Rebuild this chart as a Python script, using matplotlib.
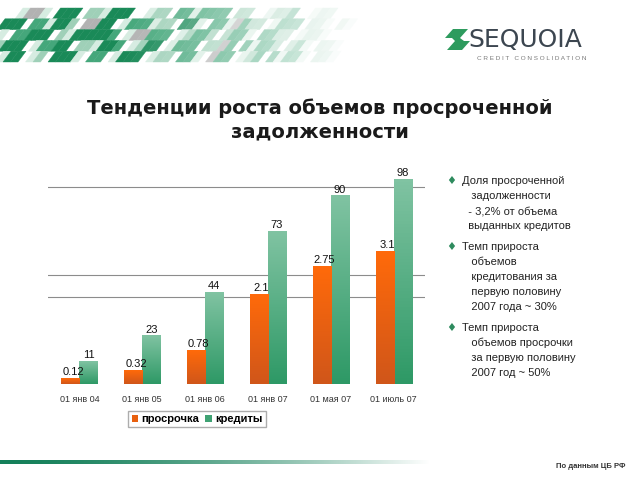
import numpy as np
import matplotlib.pyplot as plt
from matplotlib.patches import Polygon, Rectangle, Patch
from matplotlib.colors import to_rgb

plt.rcParams['font.family'] = ['Liberation Sans', 'DejaVu Sans']

categories = ["01 янв 04", "01 янв 05", "01 янв 06", "01 янв 07", "01 мая 07", "01 июль 07"]
overdue = [0.12, 0.32, 0.78, 2.1, 2.75, 3.1]
credits = [11, 23, 44, 73, 90, 98]
overdue_labels = ["0.12", "0.32", "0.78", "2.1", "2.75", "3.1"]
grid_levels = [41.6, 52.2, 94.3]

title = "Тенденции роста объемов просроченной\nзадолженности"
notes = [
    ["Доля просроченной", "   задолженности", "  - 3,2% от объема", "  выданных кредитов"],
    ["Темп прироста", "   объемов", "   кредитования за", "   первую половину", "   2007 года ~ 30%"],
    ["Темп прироста", "   объемов просрочки", "   за первую половину", "   2007 год ~ 50%"],
]
source = "По данным ЦБ РФ"

# mosaic pattern for the header band (D dark, M mid, L light, p pale, G grey, . blank)
mosaic_rows = [
    "..pGGp.DDD.LLpDDD..pLL.MMpMMMM.LL..pLLM..pLL.",
    "DDD.MMpDDL.GGDD.pMMMpLL.DDp.MMpGMLL.pMMM.LLp.Lp",
    "p.MMDDD.LpDDDDDM.pGGMMM.pLMML.LMMp.MMLL.pLLp...",
    "LDDD.pMMDD.LLpDDM.pLDD.pMMM.LLGM.MpMML.LMp.LLp..",
    ".pDD.pL.DDDp.MM.pDDD.pLL.MMp.GMM.pLM.MpMMp.LLp..",
]
mosaic_colors = {"D": "#1A8A58", "M": "#45A77B", "L": "#9FD0B8", "p": "#D6ECE1", "G": "#B2B2B2"}

W, H = 640, 480
fig = plt.figure(figsize=(6.4, 4.8), dpi=100)

bg = fig.add_axes([0, 0, 1, 1], zorder=0)
bg.set_xlim(0, W)
bg.set_ylim(H, 0)
bg.axis('off')


def blend(c, f):
    c = np.array(to_rgb(c))
    return tuple(c + (1 - c) * f)


# header mosaic
cell_w, cell_h, skew = 7.5, 10.8, 8
for r, row in enumerate(mosaic_rows):
    y0 = 8 + r * cell_h
    for k, ch in enumerate(row):
        if ch == ".":
            continue
        x0 = k * cell_w - r * 3
        fade = np.clip((x0 - 120) / 240, 0, 0.85)
        col = blend(mosaic_colors[ch], fade)
        poly = [(x0 + skew, y0), (x0 + cell_w + skew, y0),
                (x0 + cell_w, y0 + cell_h), (x0, y0 + cell_h)]
        bg.add_patch(Polygon(poly, closed=True, facecolor=col, edgecolor=col, lw=0.3))

# logo
green = "#2E9B5E"
bg.add_patch(Polygon([(453, 29), (468, 29), (460, 38), (445, 38)], facecolor=green, edgecolor='none'))
bg.add_patch(Polygon([(455, 41), (470, 41), (462, 50), (447, 50)], facecolor=green, edgecolor='none'))
bg.add_patch(Polygon([(452, 38), (460, 38), (464, 41), (455, 41)], facecolor=green, edgecolor='none'))
bg.text(468, 40, "SEQUOIA", fontsize=18, color="#3C4650", va='center', ha='left',
        family='DejaVu Sans')
bg.text(477, 58, "C R E D I T   C O N S O L I D A T I O N", fontsize=4.6, color="#7A7A7A",
        va='center', ha='left')

# footer gradient line
grad = np.linspace(0, 1, 256)
base = np.array(to_rgb("#15805A"))
img = base[None, :] + (1 - base[None, :]) * (grad[:, None] ** 1.6)
img = img[None, :, :]
bg.imshow(img, extent=[0, 430, 464, 460], aspect='auto', zorder=1)
bg.set_xlim(0, W)
bg.set_ylim(H, 0)
bg.text(626, 466, source, fontsize=5.5, fontweight='bold', color="#333333", ha='right', va='center')

# title
bg.text(320, 120, title, fontsize=14, fontweight='bold', family='DejaVu Sans',
        ha='center', va='center', linespacing=1.25, color="#1A1A1A")

# notes
y = 181
for block in notes:
    bg.text(451, y, "♦", fontsize=8, color="#2E8B5E", ha='center', va='center', family='DejaVu Sans')
    for line in block:
        bg.text(462, y, line, fontsize=8, color="#222222", ha='left', va='center')
        y += 15
    y += 6

# chart
ax = fig.add_axes([48 / W, 1 - 384 / H, (425 - 48) / W, 209 / H], zorder=2)
ax.patch.set_alpha(0)
ax2 = ax.twinx()
x = np.arange(len(categories))
bw = 0.287


def grad_bar(axis, xc, h, top, bottom):
    rect = Rectangle((xc - bw / 2, 0), bw, h, facecolor='none', edgecolor='none')
    axis.add_patch(rect)
    g = np.linspace(0, 1, 64)[:, None]
    t, b = np.array(to_rgb(top)), np.array(to_rgb(bottom))
    im = (t[None, :] * (1 - g) + b[None, :] * g)[:, None, :]
    axis.imshow(im, extent=[xc - bw / 2, xc + bw / 2, 0, h], aspect='auto', origin='upper',
                clip_path=rect, zorder=2)


for lvl in grid_levels:
    ax.axhline(lvl, color="#8C8C8C", lw=0.8, zorder=1)

for i in range(len(categories)):
    grad_bar(ax, x[i] + bw / 2, credits[i], "#80C3A2", "#2E9966")
    ax.annotate(str(credits[i]), (x[i] + bw / 2, credits[i]), xytext=(0, 1),
                textcoords='offset points', ha='center', va='bottom', fontsize=8, color="#111111")
    grad_bar(ax2, x[i] - bw / 2, overdue[i], "#FF6A0A", "#D0561A")
    ax2.annotate(overdue_labels[i], (x[i] - bw / 2, overdue[i]), xytext=(2, 1),
                 textcoords='offset points', ha='center', va='bottom', fontsize=8, color="#111111")

for a, top in ((ax, 100), (ax2, 4.9)):
    a.set_xlim(-0.5, len(categories) - 0.5)
    a.set_ylim(0, top)
    a.set_yticks([])
    for s in a.spines.values():
        s.set_visible(False)
ax.set_xticks(x)
ax.set_xticklabels(categories, fontsize=6.5, color="#333333")
ax.tick_params(axis='x', length=0, pad=8)
ax2.tick_params(axis='x', length=0)

handles = [Patch(facecolor="#E8600F"), Patch(facecolor="#3FA273")]
fig.legend(handles, ["просрочка", "кредиты"], loc='center', bbox_to_anchor=(197 / W, 1 - 419 / H),
           ncol=2, prop={'weight': 'bold', 'size': 8}, frameon=True, fancybox=False,
           edgecolor="#999999", handlelength=0.6, handleheight=0.6, handletextpad=0.3,
           columnspacing=0.5, borderpad=0.3, borderaxespad=0)

fig.savefig("out.png", dpi=100)
